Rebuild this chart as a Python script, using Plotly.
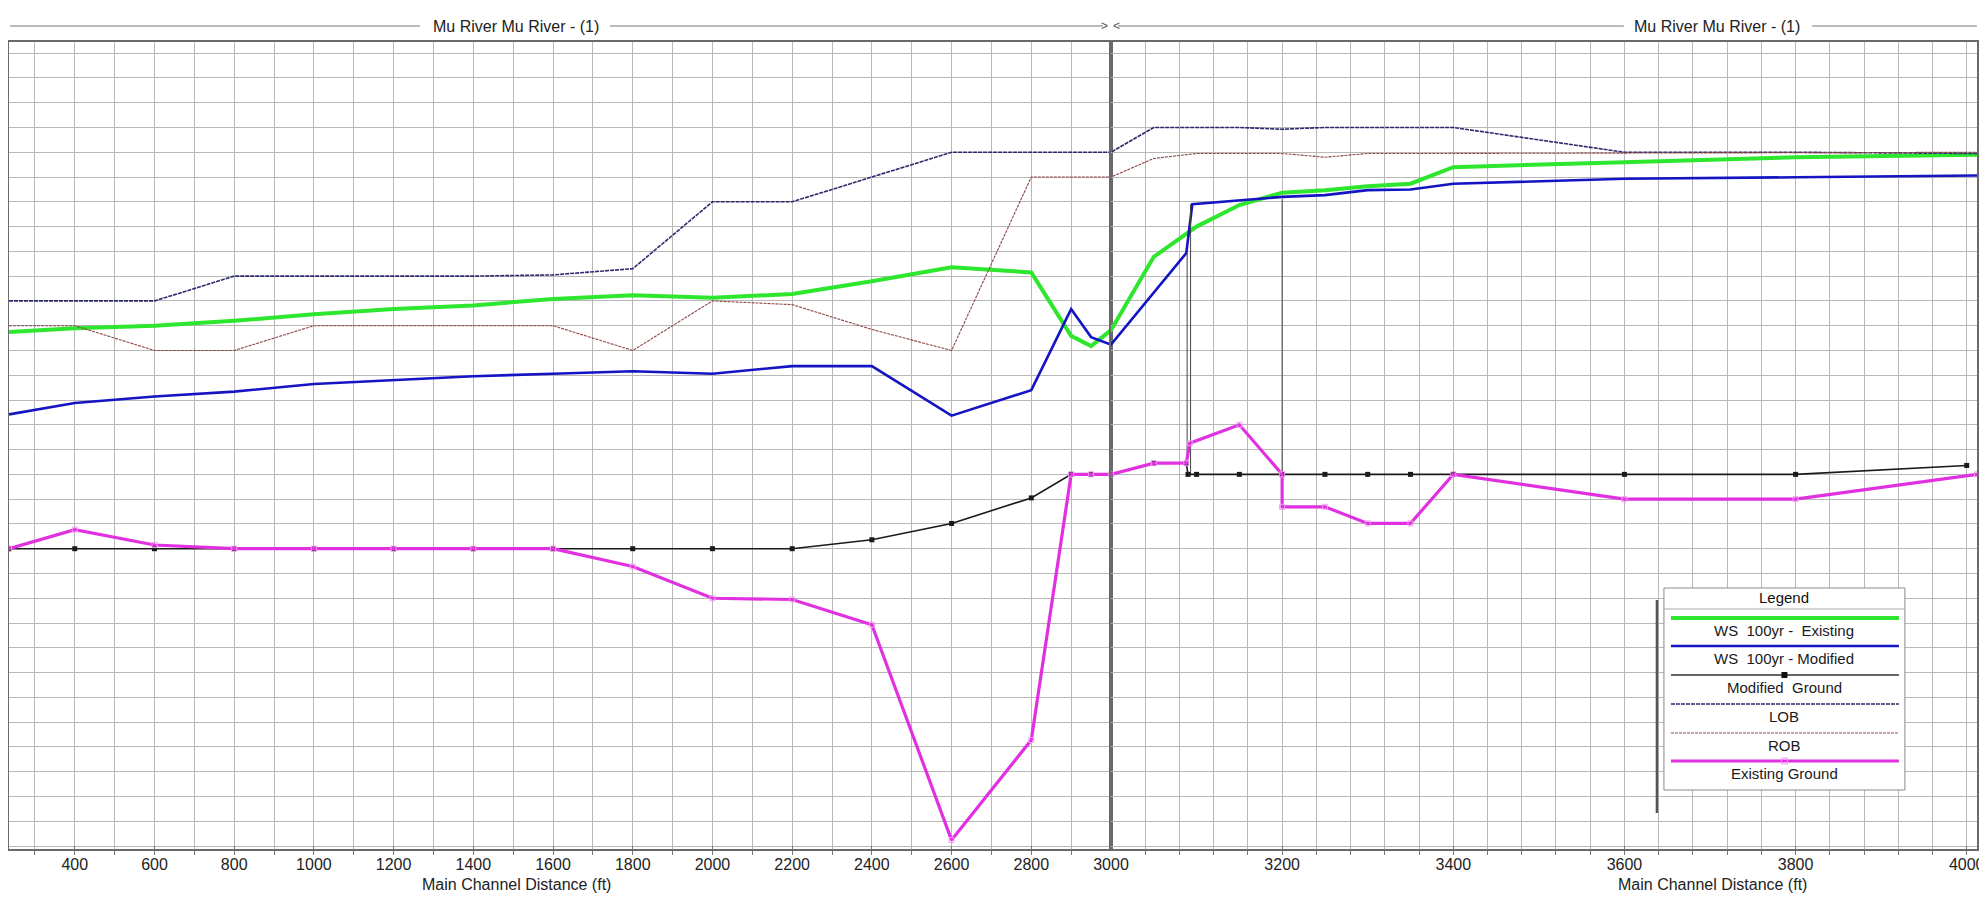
import plotly.graph_objects as go
from plotly.subplots import make_subplots

# ---------------- data ----------------
stations_l = [235, 400, 600, 800, 1000, 1200, 1400, 1600, 1800, 2000, 2200, 2400, 2600, 2800, 2900, 2950, 3000]

ws_existing_x = stations_l + [3050, 3100, 3150, 3200, 3250, 3300, 3350, 3400, 3600, 3800, 4012]
ws_existing_y = [988.75, 988.9, 989.0, 989.2, 989.46, 989.67, 989.82, 990.08, 990.23, 990.13, 990.28,
                 990.79, 991.36, 991.15, 988.59, 988.18, 988.82,
                 991.78, 993.0, 993.87, 994.37, 994.47, 994.63, 994.73, 995.4, 995.6, 995.8, 995.9]

ws_modified_x = stations_l + [3088, 3095, 3200, 3250, 3300, 3350, 3400, 3600, 3800, 4012]
ws_modified_y = [985.42, 985.88, 986.14, 986.34, 986.65, 986.8, 986.96, 987.06, 987.16, 987.06, 987.37,
                 987.37, 985.37, 986.4, 989.67, 988.54, 988.24,
                 991.93, 993.9, 994.2, 994.27, 994.47, 994.5, 994.73, 994.93, 994.99, 995.06]

mod_ground_x = stations_l + [3050, 3088, 3090, 3100, 3150, 3200, 3250, 3300, 3350, 3400, 3600, 3800, 4000]
mod_ground_y = [980.0, 980.0, 980.0, 980.0, 980.0, 980.0, 980.0, 980.0, 980.0, 980.0, 980.0,
                980.36, 981.02, 982.05, 983.0, 983.0, 983.0,
                983.45, 983.45, 983.0, 983.0, 983.0, 983.0, 983.0, 983.0, 983.0, 983.0, 983.0, 983.0, 983.36]

bank_x = stations_l + [3050, 3100, 3150, 3200, 3250, 3300, 3350, 3400, 3600, 3800, 4012]
lob_y = [990.0, 990.0, 990.0, 991.0, 991.0, 991.0, 991.0, 991.05, 991.3, 994.0, 994.0,
         995.0, 996.0, 996.0, 996.0, 996.0, 996.0,
         997.0, 997.0, 997.0, 996.93, 997.0, 997.0, 997.0, 997.0, 996.0, 996.0, 995.95]
rob_y = [989.0, 989.0, 988.0, 988.0, 989.0, 989.0, 989.0, 989.0, 988.0, 990.0, 989.85,
         988.85, 988.0, 995.0, 995.0, 995.0, 995.0,
         995.75, 995.95, 995.95, 995.95, 995.8, 995.95, 995.95, 995.95, 995.95, 995.98, 996.0]

exist_ground_x = stations_l + [3050, 3088, 3092, 3150, 3200, 3200, 3250, 3300, 3350, 3400, 3600, 3800, 4012]
exist_ground_y = [980.0, 980.77, 980.15, 980.0, 980.0, 980.0, 980.0, 980.0, 979.28, 978.0, 977.95,
                  976.93, 968.24, 972.28, 983.0, 983.0, 983.0,
                  983.45, 983.45, 984.26, 985.0, 983.0, 981.69, 981.69, 981.02, 981.02, 983.0, 982.0, 982.0, 983.0]

structure_x = [3089, 3089, None, 3093, 3093, None, 3200, 3200]
structure_y = [983.45, 991.93, None, 983.0, 993.9, None, 983.0, 994.1]

ticks_left = [400, 600, 800, 1000, 1200, 1400, 1600, 1800, 2000, 2200, 2400, 2600, 2800, 3000]
ticks_right = [3200, 3400, 3600, 3800, 4000]

panel_title = "Mu River Mu River - (1)"
x_title = "Main Channel Distance (ft)"
legend_names = ["WS  100yr -  Existing", "WS  100yr - Modified", "Modified  Ground", "LOB", "ROB", "Existing Ground"]

# ---------------- layout geometry ----------------
# Positions below are given in reference-image pixels (1987 wide); the photo of
# the page comes out a little wider than the window, so x is stretched by S.
BODY = 8
S = 2004 / 1987

def sx(x):
    return x * S

W, H = 2004 - 2 * BODY, 901 - 2 * BODY
ML, MR, MT, MB = 1, 2, 34, 44
PW, PH = W - ML - MR, H - MT - MB
X0, Y1 = BODY + ML, BODY + H - MB
SPLIT = (sx(1111) - X0) / PW

def px(x):      # reference px -> paper
    return (sx(x) - X0) / PW

def py(y):      # reference px -> paper
    return (Y1 - y) / PH

FONT = "Liberation Sans, Arial, sans-serif"
GRID = "#b8b8b8"
FRAME = "#6a6a6a"

C_GREEN = "#2de62d"
C_BLUE = "#1414c4"
C_BLACK = "#1a1a1a"
C_LOB = "#2a2a6c"
C_ROB = "#8e4646"
C_MAG = "#e030e0"

fig = make_subplots(rows=1, cols=2, shared_yaxes=True, horizontal_spacing=0,
                    column_widths=[SPLIT, 1 - SPLIT])

series = [
    dict(name=legend_names[0], x=ws_existing_x, y=ws_existing_y, mode="lines",
         line=dict(color=C_GREEN, width=4)),
    dict(name=legend_names[1], x=ws_modified_x, y=ws_modified_y, mode="lines",
         line=dict(color=C_BLUE, width=2.6)),
    dict(name="Structure", x=structure_x, y=structure_y, mode="lines",
         line=dict(color="#444444", width=1)),
    dict(name=legend_names[3], x=bank_x, y=lob_y, mode="lines",
         line=dict(color=C_LOB, width=1.6, dash="4px,1px")),
    dict(name=legend_names[4], x=bank_x, y=rob_y, mode="lines",
         line=dict(color=C_ROB, width=1.1, dash="3px,1px")),
    dict(name=legend_names[2], x=mod_ground_x, y=mod_ground_y, mode="lines+markers",
         line=dict(color=C_BLACK, width=1.6),
         marker=dict(symbol="square", size=5, color=C_BLACK)),
    dict(name=legend_names[5], x=exist_ground_x, y=exist_ground_y, mode="lines+markers",
         line=dict(color=C_MAG, width=3.2),
         marker=dict(symbol="square-open", size=5, color="#f29af2", line=dict(width=1))),
]

for col in (1, 2):
    for s in series:
        fig.add_trace(go.Scatter(showlegend=False, hoverinfo="skip", **s), row=1, col=col)

axis_common = dict(showline=True, mirror=True, linecolor=FRAME, linewidth=1.5,
                   showgrid=True, gridcolor=GRID, gridwidth=1, zeroline=False)
xtick = dict(ticks="inside", ticklen=3, tickcolor="#777777",
             tickfont=dict(family=FONT, size=16, color="#222222"))

fig.update_xaxes(range=[235, 3000], tickmode="array", tickvals=ticks_left,
                 minor=dict(tickmode="linear", tick0=0, dtick=100, showgrid=True,
                            gridcolor=GRID, ticks="outside", ticklen=4, tickcolor="#777777"),
                 **axis_common, **xtick, row=1, col=1)
fig.update_xaxes(range=[3000, 4012], tickmode="array", tickvals=ticks_right,
                 minor=dict(tickmode="linear", tick0=0, dtick=40, showgrid=True,
                            gridcolor=GRID, ticks="outside", ticklen=4, tickcolor="#777777"),
                 **axis_common, **xtick, row=1, col=2)
fig.update_yaxes(range=[967.88, 1000.45], tickmode="linear", tick0=0, dtick=1,
                 showticklabels=False, ticks="", **axis_common)

shapes = []
annotations = []

# panel titles with rules
TY = 26
for (a0, a1, b0, b1, cx) in [(10, 420, 610, 1103, 516), (1118, 1624, 1812, 1977, 1717)]:
    shapes.append(dict(type="line", xref="paper", yref="paper", x0=px(a0), x1=px(a1),
                       y0=py(TY), y1=py(TY), line=dict(color="#777777", width=1)))
    shapes.append(dict(type="line", xref="paper", yref="paper", x0=px(b0), x1=px(b1),
                       y0=py(TY), y1=py(TY), line=dict(color="#777777", width=1)))
    annotations.append(dict(text=panel_title, xref="paper", yref="paper", x=px(cx), y=py(TY),
                            showarrow=False, xanchor="center", yanchor="middle",
                            font=dict(family=FONT, size=16, color="#222222")))
annotations.append(dict(text=">", xref="paper", yref="paper", x=px(1105), y=py(TY),
                        showarrow=False, yanchor="middle",
                        font=dict(family=FONT, size=12, color="#555555")))
annotations.append(dict(text="<", xref="paper", yref="paper", x=px(1117), y=py(TY),
                        showarrow=False, yanchor="middle",
                        font=dict(family=FONT, size=12, color="#555555")))

# axis titles
for cx in (516, 1713):
    annotations.append(dict(text=x_title, xref="paper", yref="paper", x=px(cx), y=py(884),
                            showarrow=False, xanchor="center", yanchor="middle",
                            font=dict(family=FONT, size=16, color="#222222")))

# legend (HEC-RAS style: sample line above centred label)
LX0, LX1, LY0, LY1 = 1664, 1905, 588, 790
shapes.append(dict(type="line", xref="paper", yref="paper", x0=px(LX0 - 7), x1=px(LX0 - 7),
                   y0=py(600), y1=py(813), line=dict(color="#555555", width=2.5)))
shapes.append(dict(type="rect", xref="paper", yref="paper", x0=px(LX0), x1=px(LX1),
                   y0=py(LY1), y1=py(LY0), fillcolor="white", line=dict(color="#8a8a8a", width=1)))
shapes.append(dict(type="line", xref="paper", yref="paper", x0=px(LX0), x1=px(LX1),
                   y0=py(609), y1=py(609), line=dict(color="#aaaaaa", width=1)))
LCX = (LX0 + LX1) / 2
annotations.append(dict(text="Legend", xref="paper", yref="paper", x=px(LCX), y=py(597),
                        showarrow=False, xanchor="center", yanchor="middle",
                        font=dict(family=FONT, size=15, color="#111111")))
entries = [
    (618, 630, C_GREEN, 4, "solid", None),
    (646, 658, C_BLUE, 2.5, "solid", None),
    (675, 687, "#333333", 1.6, "solid", "filled"),
    (704, 716, C_LOB, 1.6, "4px,1px", None),
    (733, 745, C_ROB, 1.1, "3px,1px", None),
    (761, 773, C_MAG, 3.2, "solid", "open"),
]
for (ly, ty, col, wd, dash, mk), name in zip(entries, legend_names):
    shapes.append(dict(type="line", xref="paper", yref="paper", x0=px(LX0 + 7), x1=px(LX1 - 6),
                       y0=py(ly), y1=py(ly), line=dict(color=col, width=wd, dash=dash)))
    if mk == "filled":
        shapes.append(dict(type="rect", xref="paper", yref="paper", x0=px(LCX - 3), x1=px(LCX + 3),
                           y0=py(ly + 3), y1=py(ly - 3), fillcolor="#111111", line=dict(width=0)))
    elif mk == "open":
        shapes.append(dict(type="rect", xref="paper", yref="paper", x0=px(LCX - 3), x1=px(LCX + 3),
                           y0=py(ly + 3), y1=py(ly - 3), fillcolor="rgba(0,0,0,0)",
                           line=dict(color="#f29af2", width=1)))
    annotations.append(dict(text=name, xref="paper", yref="paper", x=px(LCX), y=py(ty),
                            showarrow=False, xanchor="center", yanchor="middle",
                            font=dict(family=FONT, size=15, color="#1a1a1a")))

fig.update_layout(width=W, height=H, autosize=False, margin=dict(l=ML, r=MR, t=MT, b=MB),
                  paper_bgcolor="white", plot_bgcolor="white", showlegend=False,
                  shapes=shapes, annotations=annotations,
                  font=dict(family=FONT, size=15, color="#222222"))

fig.write_html("out.html", config={"responsive": False, "displayModeBar": False})
